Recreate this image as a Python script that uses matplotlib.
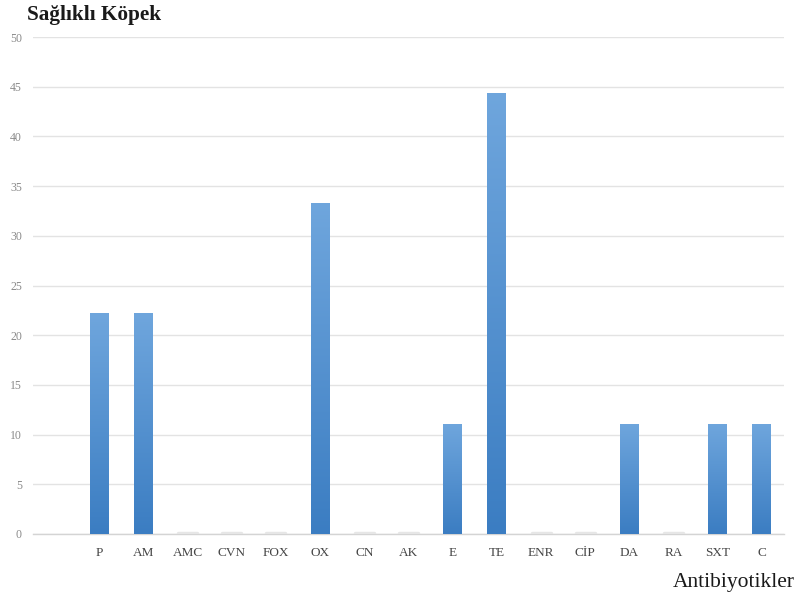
import numpy as np
import matplotlib
matplotlib.use("Agg")
import matplotlib.pyplot as plt
from matplotlib.colors import LinearSegmentedColormap

categories = ["", "P", "AM", "AMC", "CVN", "FOX", "OX", "CN", "AK", "E", "TE",
              "ENR", "CİP", "DA", "RA", "SXT", "C"]
values = [0, 22.2, 22.2, 0, 0, 0, 33.3, 0, 0, 11.1, 44.4,
          0, 0, 11.1, 0, 11.1, 11.1]
empty_slots = [0]  # leading slot has no antibiotic
yticks = list(range(0, 51, 5))

title = "Sağlıklı Köpek"
xlabel = "Antibiyotikler"

serif = ["Liberation Serif", "DejaVu Serif"]

fig = plt.figure(figsize=(8.09, 5.98), dpi=100)
ax = fig.add_axes([33 / 809, 1 - 534 / 598, (784 - 33) / 809, (534 - 37) / 598])

x = np.arange(len(categories))
width = 0.43
cmap = LinearSegmentedColormap.from_list("barfill", ["#3b7dc2", "#6fa6dd"])
grad = np.linspace(0, 1, 256).reshape(-1, 1)

for xi, v in zip(x, values):
    if xi in empty_slots:
        continue
    if v > 0:
        bar = ax.bar(xi, v, width=width, color="none", edgecolor="none", zorder=3)[0]
        img = ax.imshow(grad, cmap=cmap, origin="lower", aspect="auto",
                        extent=(xi - width / 2, xi + width / 2, 0, v), zorder=3)
        img.set_clip_path(bar)
    else:
        ax.plot([xi - width / 2, xi + width / 2], [0.08, 0.08],
                color="#e6e6e6", lw=2.5, solid_capstyle="round", zorder=3)

ax.set_xlim(-0.5, len(categories) - 0.5)
ax.set_ylim(0, 50)
ax.set_yticks(yticks)
ax.set_xticks(x)
ax.set_xticklabels(categories)
ax.grid(axis="y", color="#e3e3e3", lw=1.0, zorder=0)
ax.set_axisbelow(True)
for s in ["top", "right", "left"]:
    ax.spines[s].set_visible(False)
ax.spines["bottom"].set_color("#d4d4d4")
ax.spines["bottom"].set_linewidth(1.0)
ax.spines["bottom"].set_zorder(1)
ax.tick_params(axis="both", length=0)
ax.tick_params(axis="y", pad=8, labelsize=8.5, labelcolor="#8a8a8a")
ax.tick_params(axis="x", pad=9, labelsize=9.5, labelcolor="#454545")
for lbl in ax.get_xticklabels() + ax.get_yticklabels():
    lbl.set_family(serif)

fig.text(27 / 809, 1 - 15 / 598, title, family=serif, fontsize=15.3,
         fontweight="bold", color="#1a1a1a", va="center", ha="left")
fig.text(795 / 809, 1 - 583 / 598, xlabel, family=serif, fontsize=15.5,
         color="#1a1a1a", va="center", ha="right")

fig.savefig("out.png", dpi=100)
